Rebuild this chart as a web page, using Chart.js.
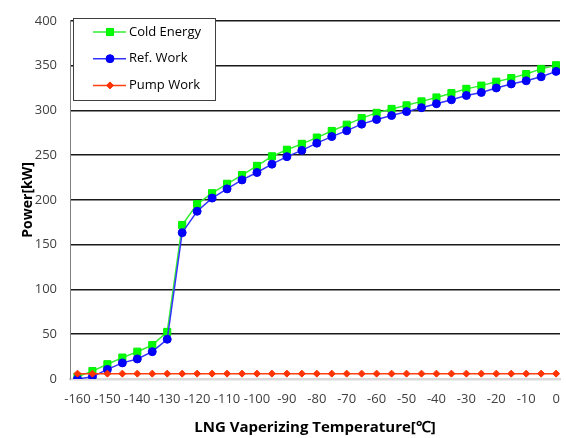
<!DOCTYPE html>
<html>
<head>
<meta charset="utf-8">
<script src="https://cdn.jsdelivr.net/npm/chart.js@4.4.1/dist/chart.umd.min.js"></script>
<style>
  html, body { margin: 0; padding: 0; background: #fff; overflow: hidden; }
  #wrap { width: 566px; height: 438px; position: relative; }
</style>
</head>
<body>
<div id="wrap"><canvas id="chart"></canvas></div>
<script>
// LNG vaporizing temperature [°C]
const temperatures = [-160, -155, -150, -145, -140, -135, -130, -125, -120, -115, -110,
    -105, -100, -95, -90, -85, -80, -75, -70, -65, -60, -55, -50, -45, -40, -35, -30,
    -25, -20, -15, -10, -5, 0]

// power [kW]
const coldEnergy = [2.5, 8.8, 16.5, 23.9, 30.5, 37.8, 52.6, 172, 195.4, 207.5, 218,
    227.7, 238, 248.7, 256, 262.6, 269.6, 277, 284, 291.3, 297.2, 301.6, 305.6, 310,
    314.4, 319.2, 324, 327.6, 332, 336, 340.5, 346.3, 350.4]
const refWork = [0, 2.5, 10.7, 18, 22.4, 30.5, 44.4, 163.4, 187.3, 202, 212.3,
    222.3, 230.6, 239.9, 248.3, 255.3, 263.4, 270.7, 277.3, 284.6, 289.8, 294.2, 298.6, 303,
    307.4, 311.8, 316.6, 320, 325, 329.5, 333, 337.5, 343.5]
const pumpWork = [6, 6, 6, 6, 6, 6, 6, 6, 6, 6, 6,
    6, 6, 6, 6, 6, 6, 6, 6, 6, 6, 6, 6, 6,
    6, 6, 6, 6, 6, 6, 6, 6, 6]

const xTicks = [-160, -150, -140, -130, -120, -110, -100, -90, -80, -70, -60, -50, -40, -30, -20, -10, 0]
const yTicks = [0, 50, 100, 150, 200, 250, 300, 350, 400]

const FONT = '"Open Sans", "Liberation Sans", sans-serif'

const toPoints = (ys) => ys.map((y, i) => ({ x: temperatures[i], y: y }))

// Excel-like legend: framed box with line + marker samples
const boxLegend = {
    id: 'boxLegend',
    afterDraw(chart) {
        const ctx = chart.ctx
        ctx.save()
        ctx.fillStyle = '#fff'
        ctx.strokeStyle = '#404040'
        ctx.lineWidth = 1
        ctx.fillRect(73.5, 18.5, 142, 82)
        ctx.strokeRect(73.5, 18.5, 142, 82)
        chart.data.datasets.forEach((ds, i) => {
            const y = 32 + i * 26.7
            ctx.strokeStyle = ds.borderColor
            ctx.lineWidth = ds.borderWidth
            ctx.beginPath()
            ctx.moveTo(93, y)
            ctx.lineTo(126, y)
            ctx.stroke()
            ctx.fillStyle = ds.pointBackgroundColor
            ctx.strokeStyle = ds.pointBorderColor
            ctx.lineWidth = 1
            Chart.helpers.drawPoint(ctx, {
                pointStyle: ds.pointStyle, radius: ds.pointRadius, borderWidth: 1, rotation: 0
            }, 110, y)
            ctx.fillStyle = '#000'
            ctx.font = '13px ' + FONT
            ctx.textBaseline = 'middle'
            ctx.textAlign = 'left'
            ctx.fillText(ds.label, 129, y)
        })
        ctx.restore()
    }
}

new Chart(document.getElementById('chart'), {
    type: 'line',
    data: {
        datasets: [
            {
                label: 'Cold Energy',
                data: toPoints(coldEnergy),
                borderColor: '#33ee33',
                borderWidth: 1.5,
                pointStyle: 'rect',
                pointRadius: 5,
                pointBackgroundColor: '#00ff00',
                pointBorderColor: '#00ee00',
                pointBorderWidth: 1,
                order: 3
            },
            {
                label: 'Ref. Work',
                data: toPoints(refWork),
                borderColor: '#3333ff',
                borderWidth: 1.5,
                pointStyle: 'circle',
                pointRadius: 4,
                pointBackgroundColor: '#0000ff',
                pointBorderColor: '#0000ee',
                pointBorderWidth: 1,
                order: 2
            },
            {
                label: 'Pump Work',
                data: toPoints(pumpWork),
                borderColor: '#ff4010',
                borderWidth: 1.5,
                pointStyle: 'rectRot',
                pointRadius: 3.5,
                pointBackgroundColor: '#ff3300',
                pointBorderColor: '#ff3300',
                pointBorderWidth: 1,
                order: 1
            }
        ]
    },
    options: {
        responsive: true,
        maintainAspectRatio: false,
        animation: false,
        layout: { padding: { top: 16, right: 0, bottom: 0, left: 0 } },
        plugins: {
            legend: { display: false },
            tooltip: { enabled: false }
        },
        scales: {
            x: {
                type: 'linear',
                min: -162.5,
                max: 1.3,
                grid: { display: false, drawTicks: false },
                border: { display: true, color: '#d9d9d9', width: 2.5 },
                afterBuildTicks: (scale) => { scale.ticks = xTicks.map(v => ({ value: v })) },
                afterFit: (scale) => {
                    scale.height = 59
                    scale.paddingLeft = 0
                    scale.paddingRight = 0
                },
                ticks: {
                    autoSkip: false,
                    maxRotation: 0,
                    padding: 12,
                    color: '#404040',
                    font: { family: FONT, size: 13 }
                },
                title: {
                    display: true,
                    text: 'LNG Vaperizing Temperature[℃]',
                    color: '#000',
                    font: { family: FONT, size: 15, weight: 'bold' },
                    padding: { top: 0, bottom: 1 }
                }
            },
            y: {
                min: 0,
                max: 400,
                afterBuildTicks: (scale) => { scale.ticks = yTicks.map(v => ({ value: v })) },
                afterFit: (scale) => { scale.width = 70 },
                grid: {
                    drawTicks: false,
                    color: (c) => c.tick && c.tick.value === 0 ? 'rgba(0,0,0,0)' : '#1a1a1a',
                    lineWidth: 1.5
                },
                border: { display: true, color: '#808080', width: 1 },
                ticks: {
                    padding: 13,
                    color: '#404040',
                    font: { family: FONT, size: 13 }
                },
                title: {
                    display: true,
                    text: 'Power[kW]',
                    color: '#000',
                    font: { family: FONT, size: 14, weight: 'bold' },
                    padding: { top: 20, bottom: 0 }
                }
            }
        }
    },
    plugins: [boxLegend]
})
</script>
</body>
</html>
